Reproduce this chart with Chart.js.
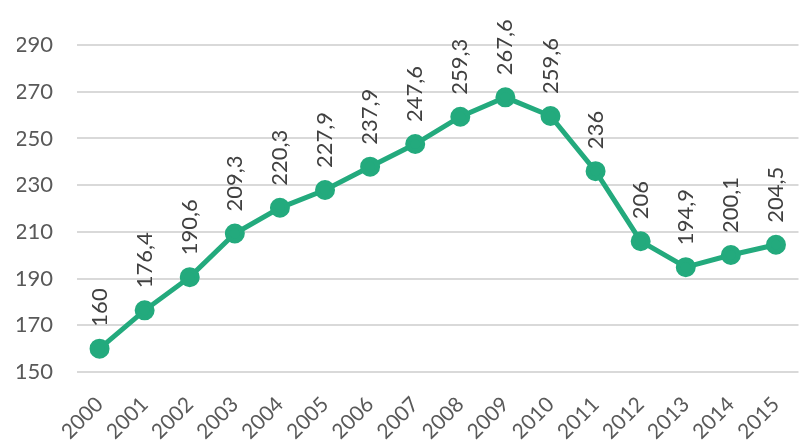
<!DOCTYPE html>
<html>
<head>
<meta charset="utf-8">
<script src="https://cdn.jsdelivr.net/npm/chart.js@4"></script>
<style>
  body { margin: 0; background: #fff; }
  #wrap { width: 811px; height: 442px; }
</style>
</head>
<body>
<div id="wrap"><canvas id="chart"></canvas></div>
<script>
const years = ["2000","2001","2002","2003","2004","2005","2006","2007","2008","2009","2010","2011","2012","2013","2014","2015"];
const values = [160, 176.4, 190.6, 209.3, 220.3, 227.9, 237.9, 247.6, 259.3, 267.6, 259.6, 236, 206, 194.9, 200.1, 204.5];
const yTicks = [150, 170, 190, 210, 230, 250, 270, 290];

const green = "#23aa7d";
const fontFamily = "Lato, 'Open Sans', sans-serif";

// rotated value labels above each point
const valueLabels = {
  id: "valueLabels",
  afterDatasetsDraw(chart) {
    const ctx = chart.ctx;
    const meta = chart.getDatasetMeta(0);
    ctx.save();
    ctx.font = "22px " + fontFamily;
    ctx.fillStyle = "#404040";
    ctx.textAlign = "left";
    ctx.textBaseline = "middle";
    meta.data.forEach((pt, i) => {
      const txt = String(values[i]).replace(".", ",");
      ctx.save();
      ctx.translate(pt.x, pt.y - 22);
      ctx.rotate(-Math.PI / 2);
      ctx.fillText(txt, 0, 0);
      ctx.restore();
    });
    ctx.restore();
  },
};

new Chart(document.getElementById("chart"), {
  type: "line",
  data: {
    labels: years,
    datasets: [{
      data: values,
      borderColor: green,
      backgroundColor: green,
      borderWidth: 5,
      pointRadius: 7.5,
      pointHoverRadius: 7.5,
      tension: 0,
    }],
  },
  options: {
    responsive: true,
    maintainAspectRatio: false,
    animation: false,
    layout: { padding: { top: 45, right: -5, left: 17, bottom: 0 } },
    plugins: {
      legend: { display: false },
      tooltip: { enabled: false },
    },
    scales: {
      x: {
        offset: true,
        grid: { display: false },
        border: { display: false },
        afterFit(axis) {
          axis.height = 70;
          axis.paddingLeft = 0;
          axis.paddingRight = 0;
        },
        ticks: {
          minRotation: 45,
          maxRotation: 45,
          color: "#595959",
          font: { size: 21, family: fontFamily },
          padding: 12,
        },
      },
      y: {
        min: 150,
        max: 290,
        afterBuildTicks(axis) {
          axis.ticks = yTicks.map((v) => ({ value: v }));
        },
        afterFit(axis) {
          axis.width = 60;
        },
        grid: { color: "#d9d9d9", lineWidth: 2, drawTicks: false },
        border: { display: false },
        ticks: {
          color: "#595959",
          font: { size: 22, family: fontFamily },
          padding: 24,
        },
      },
    },
  },
  plugins: [valueLabels],
});
</script>
</body>
</html>
